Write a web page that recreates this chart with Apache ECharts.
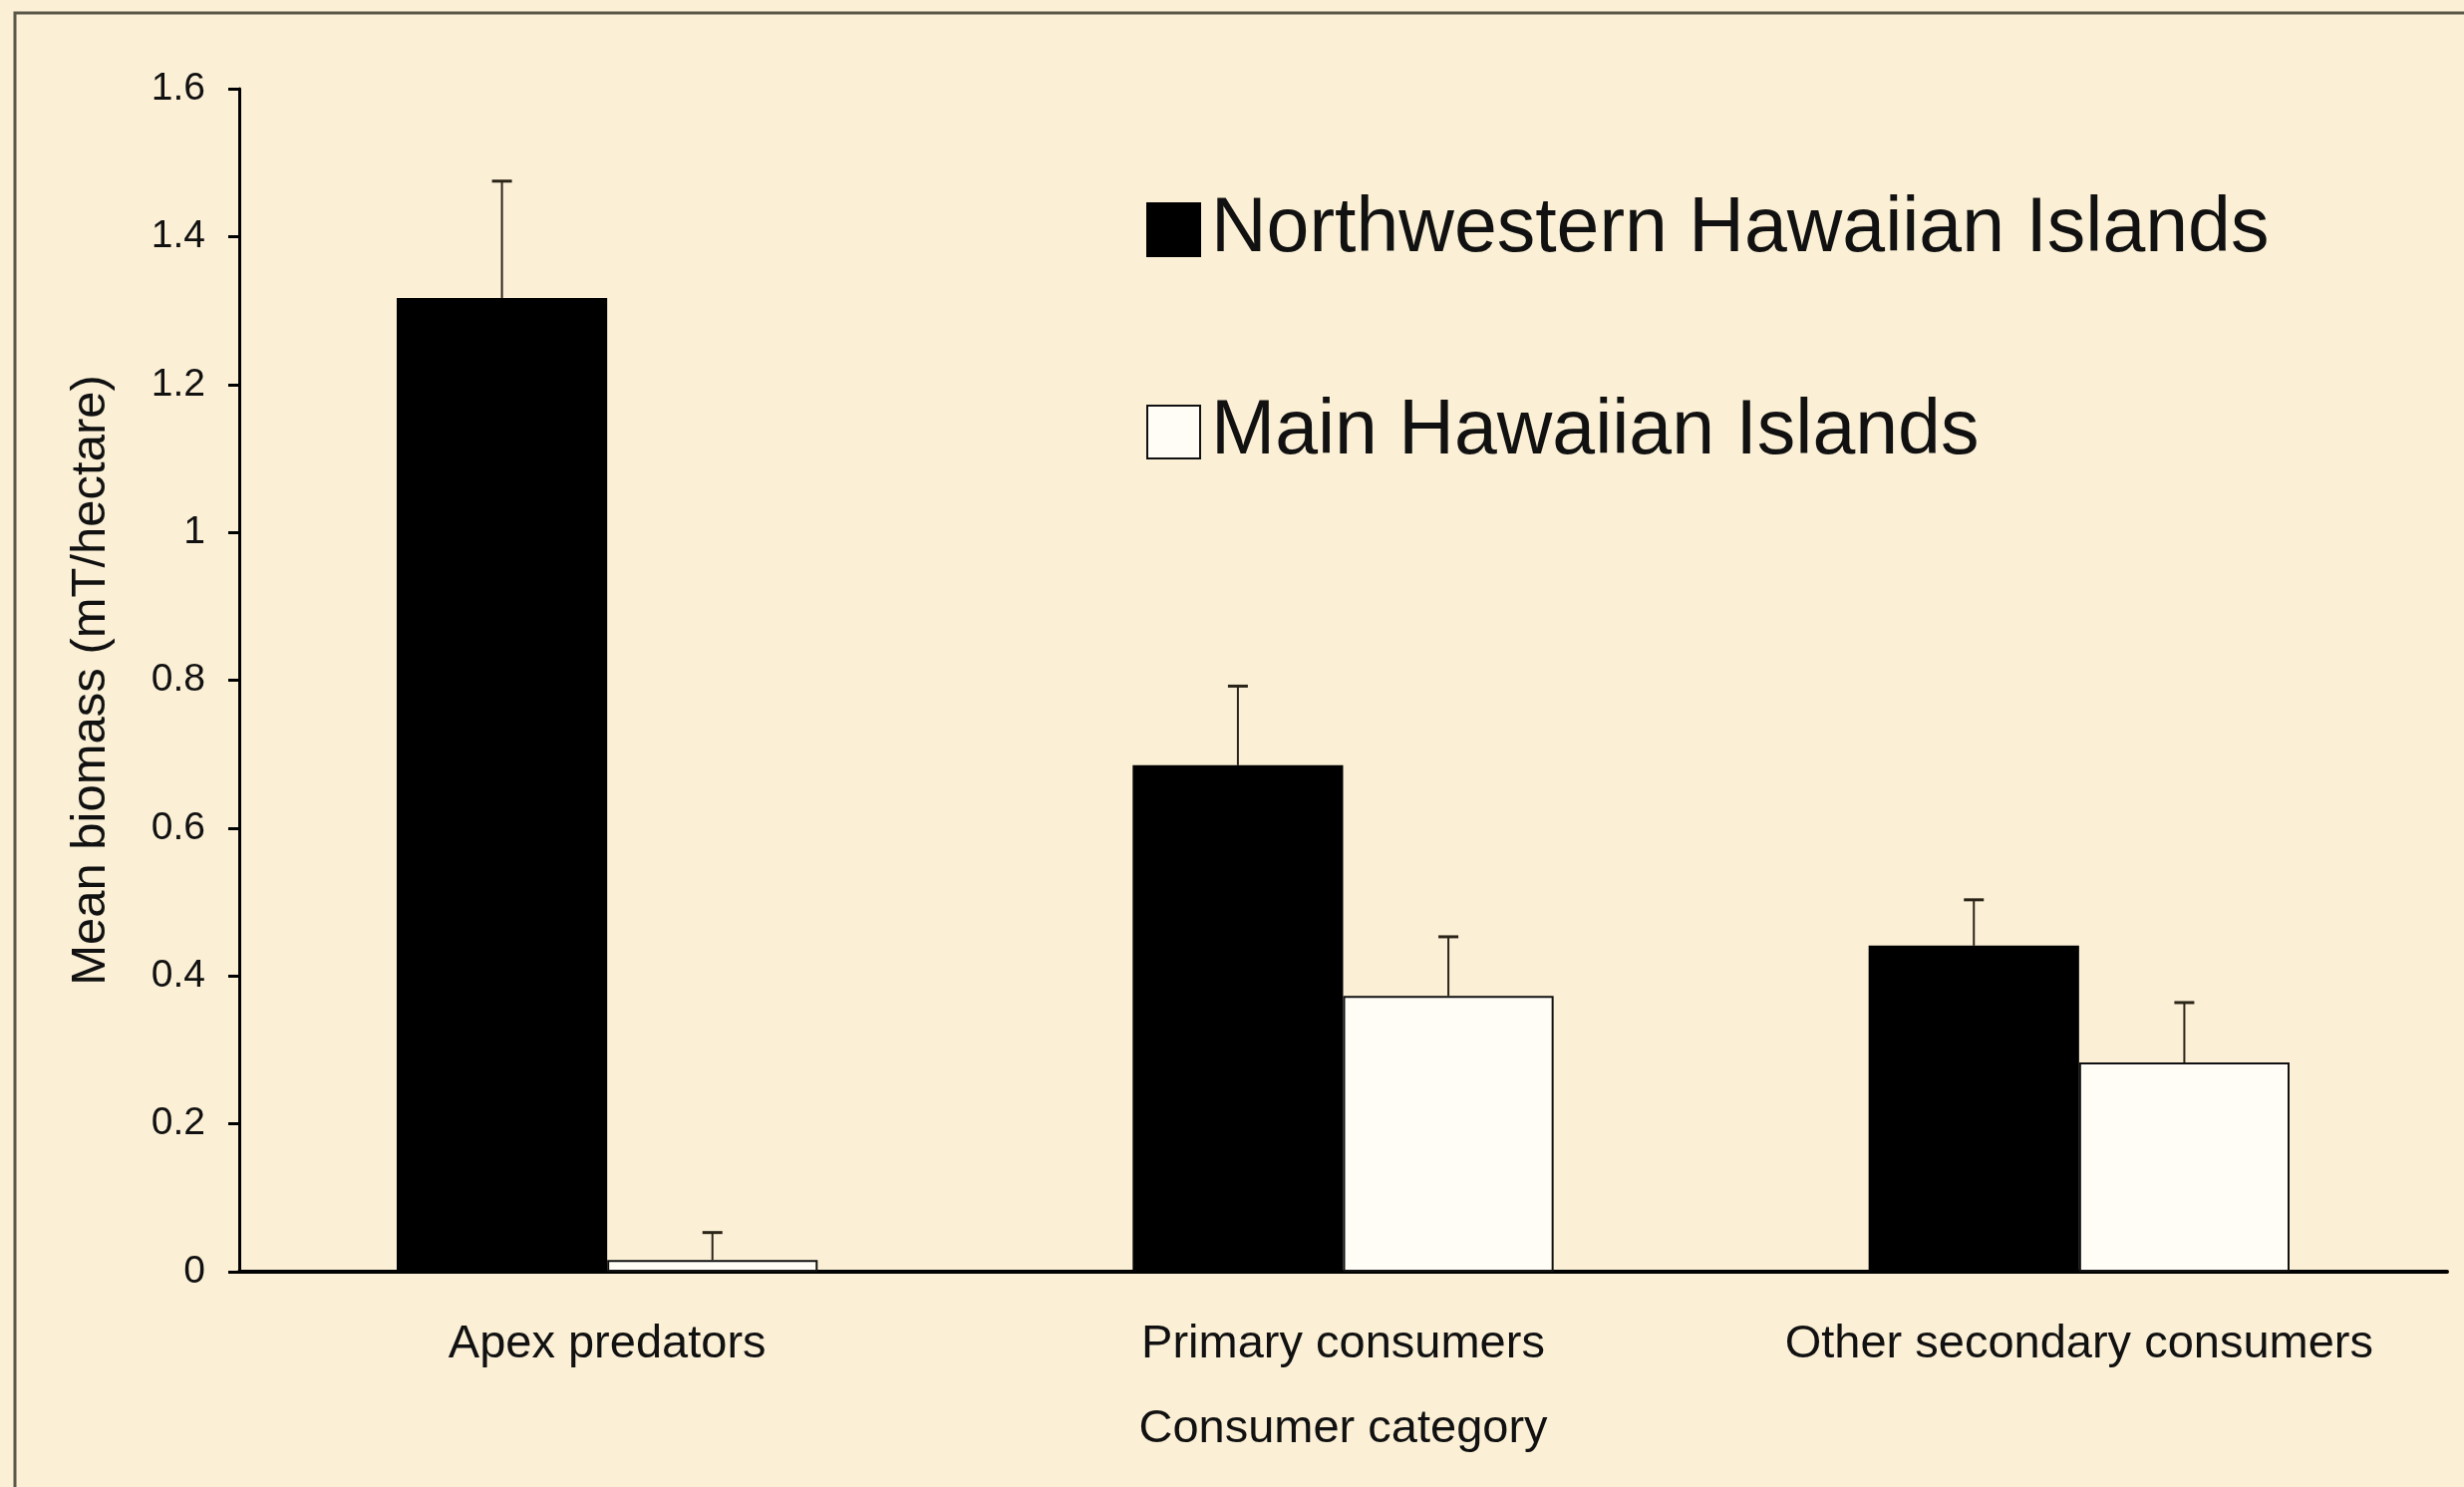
<!DOCTYPE html>
<html>
<head>
<meta charset="utf-8">
<script src="https://cdn.jsdelivr.net/npm/echarts@6/dist/echarts.min.js"></script>
<style>
html,body{margin:0;padding:0;background:#FBF0D6;}
#chart{width:2472px;height:1492px;}
</style>
</head>
<body>
<div id="chart"></div>
<script>
// ---- data ----
const categories = ['Apex predators', 'Primary consumers', 'Other secondary consumers'];
const seriesNames = ['Northwestern Hawaiian Islands', 'Main Hawaiian Islands'];
const nwhiMean = [1.317, 0.685, 0.441];
const nwhiSE   = [0.158, 0.107, 0.062];
const mhiMean  = [0.016, 0.373, 0.283];
const mhiSE    = [0.037, 0.080, 0.081];
const yTicks   = [0, 0.2, 0.4, 0.6, 0.8, 1, 1.2, 1.4, 1.6];

const FONT = 'Liberation Sans, Arial, sans-serif';
const CAT_GAP = 0.428;

function errorSeries(means, ses, sign) {
  return {
    type: 'custom',
    silent: true,
    z: 5,
    data: means.map((m, i) => [i, m, m + ses[i]]),
    renderItem: function (params, api) {
      const band = api.size([1, 0])[0];
      const bw = band * (1 - CAT_GAP) / 2;
      const base = api.coord([api.value(0), api.value(1)]);
      const top = api.coord([api.value(0), api.value(2)]);
      const x = base[0] + sign * bw / 2;
      return {
        type: 'group',
        children: [
          { type: 'line', shape: { x1: x, y1: base[1], x2: x, y2: top[1] },
            style: { stroke: '#2a2418', lineWidth: 2 } },
          { type: 'line', shape: { x1: x - 10, y1: top[1], x2: x + 10, y2: top[1] },
            style: { stroke: '#2a2418', lineWidth: 3 } }
        ]
      };
    }
  };
}

const chart = echarts.init(document.getElementById('chart'));
chart.setOption({
  backgroundColor: '#FBF0D6',
  animation: false,
  textStyle: { fontFamily: FONT, color: '#111' },
  grid: { left: 240, right: 17, top: 89, bottom: 216, containLabel: false },
  legend: {
    orient: 'vertical',
    left: 1145,
    top: 187,
    itemWidth: 53,
    itemHeight: 53,
    itemGap: 126,
    icon: 'rect',
    data: seriesNames,
    textStyle: { fontFamily: FONT, fontSize: 77, color: '#111', lineHeight: 53, padding: [0, 0, 0, 6] }
  },
  xAxis: {
    type: 'category',
    data: categories,
    name: 'Consumer category',
    nameLocation: 'middle',
    nameGap: 135,
    nameTextStyle: { fontFamily: FONT, fontSize: 47, color: '#111' },
    axisLine: { lineStyle: { color: '#000', width: 4 } },
    axisTick: { show: false },
    axisLabel: { fontFamily: FONT, fontSize: 47, color: '#111', margin: 50, interval: 0 }
  },
  yAxis: {
    type: 'value',
    min: yTicks[0],
    max: yTicks[yTicks.length - 1],
    interval: 0.2,
    name: 'Mean biomass (mT/hectare)',
    nameLocation: 'middle',
    nameGap: 124,
    nameTextStyle: { fontFamily: FONT, fontSize: 49, color: '#111' },
    axisLine: { show: true, lineStyle: { color: '#000', width: 3 } },
    axisTick: { show: true, length: 11, lineStyle: { color: '#000', width: 3 } },
    axisLabel: { fontFamily: FONT, fontSize: 39, color: '#111', margin: 34 },
    splitLine: { show: false }
  },
  series: [
    {
      name: seriesNames[0],
      type: 'bar',
      data: nwhiMean,
      barGap: '0%',
      barCategoryGap: (CAT_GAP * 100) + '%',
      itemStyle: { color: '#000', borderColor: '#000', borderWidth: 2 }
    },
    {
      name: seriesNames[1],
      type: 'bar',
      data: mhiMean,
      barGap: '0%',
      barCategoryGap: (CAT_GAP * 100) + '%',
      itemStyle: { color: '#FFFDF6', borderColor: '#111', borderWidth: 2 }
    },
    errorSeries(nwhiMean, nwhiSE, -1),
    errorSeries(mhiMean, mhiSE, 1)
  ],
  graphic: [
    { type: 'polyline', shape: { points: [[15, 1492], [15, 13], [2472, 13]] },
      style: { stroke: '#5a5648', lineWidth: 3, fill: null }, silent: true }
  ]
});
</script>
</body>
</html>
